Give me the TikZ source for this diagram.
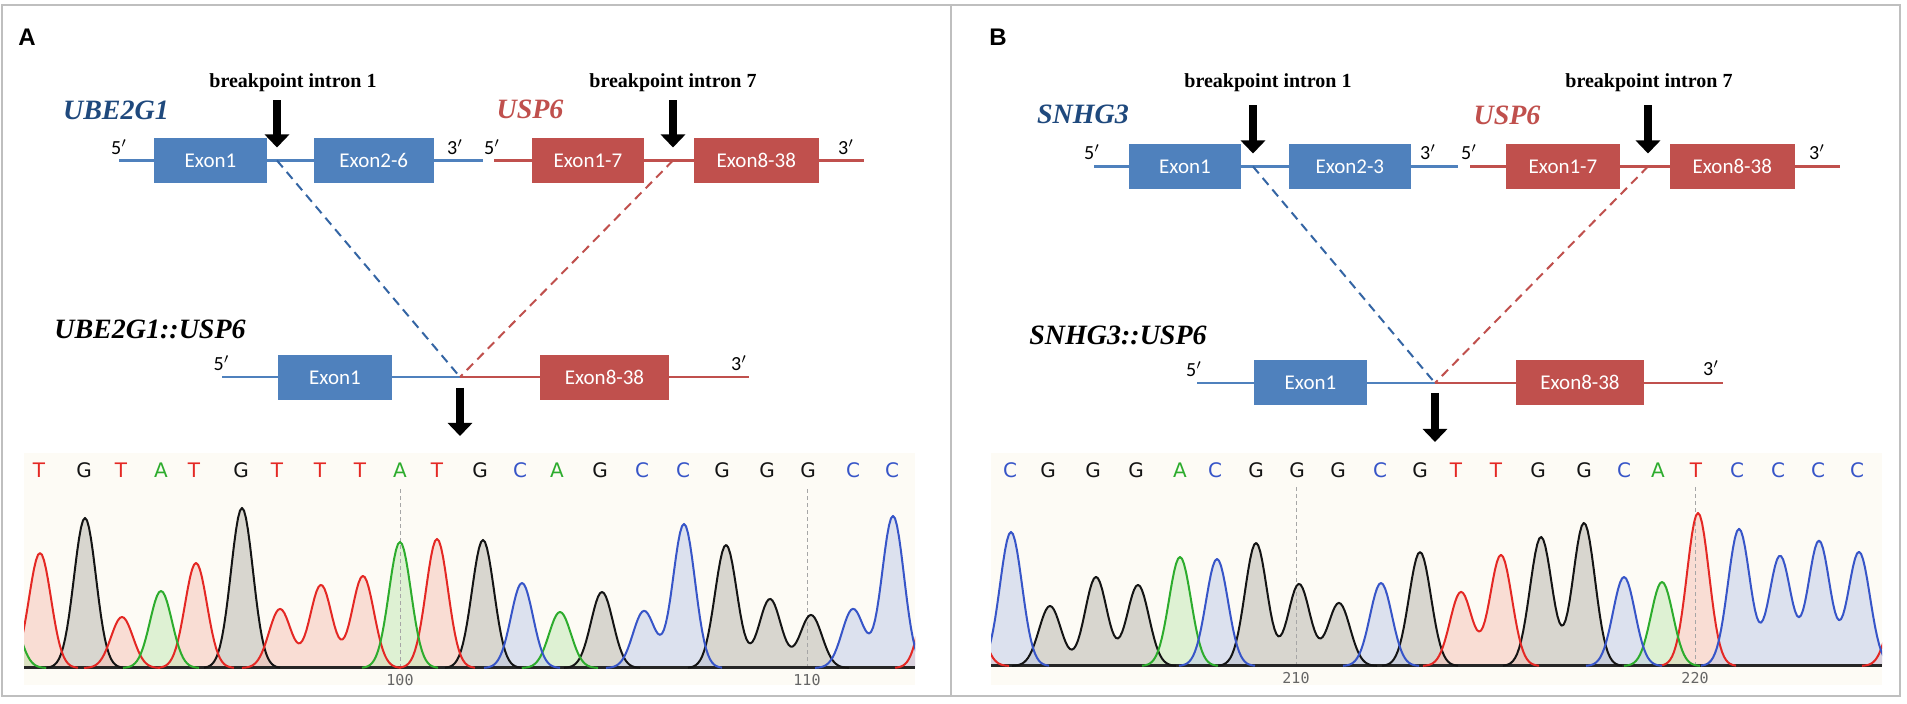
\documentclass[tikz,border=0pt]{standalone}
\usepackage{fontspec}
\setmainfont{Liberation Serif}
\newfontfamily\calfont{Carlito}
\newfontfamily\arialfont{Liberation Sans}
\newfontfamily\seqfont{DejaVu Sans}
\newfontfamily\tickfont{DejaVu Sans Mono}
\usetikzlibrary{arrows.meta, positioning, calc}

\definecolor{exblue}{RGB}{79,129,189}
\definecolor{exred}{RGB}{192,80,77}
\definecolor{dashblue}{RGB}{52,101,164}
\definecolor{genblue}{RGB}{31,73,125}
\definecolor{framegray}{RGB}{191,191,191}
\definecolor{chrombg}{RGB}{253,251,245}
\definecolor{baseT}{RGB}{228,40,36}
\definecolor{baseG}{RGB}{20,20,20}
\definecolor{baseC}{RGB}{55,85,200}
\definecolor{baseA}{RGB}{45,172,45}
\definecolor{lightT}{RGB}{246,192,180}
\definecolor{lightG}{RGB}{180,178,170}
\definecolor{lightC}{RGB}{188,200,232}
\definecolor{lightA}{RGB}{192,232,178}

% builds the sum of peaks of one trace
\newcommand\buildpk[1]{%
  \gdef\pkexpr{0}\gdef\pklo{}%
  \foreach \pc/\ph in {#1}{%
    \ifx\pklo\empty\xdef\pklo{\pc}\fi
    \xdef\pkhi{\pc}%
    \xdef\pkexpr{\unexpanded\expandafter{\pkexpr}+gpk(\noexpand\x,\pc,\ph)}%
  }%
  \pgfmathsetmacro\pka{\pklo-3.8}%
  \pgfmathsetmacro\pkb{\pkhi+3.8}%
  \pgfmathtruncatemacro\pkn{(\pkb-\pka)*5+1}%
}
\newcommand\pkfill[2]{\buildpk{#2}%
  \fill[tint#1] plot[domain=\pka:\pkb, samples=\pkn] (\x,{\pkexpr}) -- (\pkb,0) -- (\pka,0) -- cycle;}
\newcommand\pkline[2]{\buildpk{#2}%
  \draw[trace#1] plot[domain=\pka:\pkb, samples=\pkn] (\x,{\pkexpr});}

% peaks: centre (10px units) / height (px)
\newcommand\tracesA[1]{%
  #1{G}{6.1/150}#1{G}{21.8/160}#1{G}{45.9/128}#1{G}{57.8/76}#1{G}{70.2/123,74.6/69,78.7/53}%
  #1{T}{1.6/115}#1{T}{9.8/51}#1{T}{17.2/105}#1{T}{25.6/59,29.7/83,33.9/92}#1{T}{41.3/129}#1{T}{90.9/100}%
  #1{A}{-1.6/60}#1{A}{13.7/77}#1{A}{37.6/126}#1{A}{53.6/56}%
  #1{C}{49.8/85}#1{C}{62.0/57,66.0/144}#1{C}{82.9/59,86.9/152}}
\newcommand\tracesB[1]{%
  #1{G}{5.9/60,10.5/89,14.7/81}#1{G}{26.5/123,30.8/82,34.8/63}#1{G}{42.9/114}#1{G}{55.0/129,59.3/143}%
  #1{T}{-2.0/60}#1{T}{47.0/74,51.0/111}#1{T}{70.7/153}#1{T}{90.9/75}%
  #1{A}{18.9/109}#1{A}{67.1/84}%
  #1{C}{2.0/134}#1{C}{22.6/107}#1{C}{39.0/83}#1{C}{63.3/89}#1{C}{74.8/137,78.9/110,82.8/125,86.8/114}}

\begin{document}
\begin{tikzpicture}[x=0.5pt, y=-0.5pt, >=Latex,
    declare function={gpk(\gx,\gc,\gh)=\gh*exp(max(-9,-(\gx-\gc)*(\gx-\gc)/2.42));},
    exonblue/.style={rectangle, fill=exblue, text=white, font=\calfont\fontsize{10.5}{12}\selectfont, minimum height=22.5pt, inner sep=0pt},
    exonred/.style={exonblue, fill=exred},
    bbblue/.style={draw=exblue, line width=1.25pt},
    bbred/.style={draw=exred, line width=1.25pt},
    joinblue/.style={draw=dashblue, line width=1pt, dash pattern=on 4.5pt off 3pt},
    joinred/.style={draw=exred, line width=1pt, dash pattern=on 4.5pt off 3pt},
    endlbl/.style={font=\calfont\fontsize{10}{12}\selectfont, inner sep=0pt},
    genename/.style={font=\bfseries\itshape\fontsize{14}{16}\selectfont, inner sep=0pt},
    bplabel/.style={font=\bfseries\fontsize{10}{12}\selectfont, inner sep=0pt},
    panellbl/.style={font=\arialfont\bfseries\fontsize{12}{14}\selectfont, inner sep=0pt},
    bparrow/.style={-{Triangle[width=12pt, length=6.5pt]}, line width=4pt, black},
    tintT/.style={fill=lightT, fill opacity=0.5},
    tintG/.style={fill=lightG, fill opacity=0.5},
    tintC/.style={fill=lightC, fill opacity=0.5},
    tintA/.style={fill=lightA, fill opacity=0.5},
    traceT/.style={draw=baseT, line width=1pt, line join=round},
    traceG/.style={draw=baseG, line width=1pt, line join=round},
    traceC/.style={draw=baseC, line width=1pt, line join=round},
    traceA/.style={draw=baseA, line width=1pt, line join=round},
    seqT/.style={text=baseT, font=\seqfont\fontsize{10}{12}\selectfont, inner sep=0pt},
    seqG/.style={seqT, text=baseG},
    seqC/.style={seqT, text=baseC},
    seqA/.style={seqT, text=baseA},
    gridln/.style={draw=black!35, line width=0.5pt, dash pattern=on 2pt off 1.5pt},
    zeroline/.style={draw=black!85, line width=1.5pt},
    ticklbl/.style={font=\tickfont\fontsize{7.5}{9}\selectfont, text=black!60, inner sep=0pt}]

    \useasboundingbox (0,0) rectangle (1907,704);
    \fill[white] (0,0) rectangle (1907,704);

    % frames
    \draw[framegray, line width=1.3pt] (2,5) rectangle (1900,696);
    \draw[framegray, line width=1.3pt] (951,5) -- (951,696);

    %% ---------------- panel A ----------------
    \node[panellbl] (pA) at (27,37) {A};
    \node[bplabel] (bpA1) at (293,83) {breakpoint intron 1};
    \node[bplabel] (bpA7) at (673,83) {breakpoint intron 7};
    \node[genename, text=genblue] (gA1) at (116,110) {UBE2G1};
    \node[genename, text=exred] (gA2) at (530,109) {USP6};

    % wild-type genes
    \coordinate (a5) at (119,160.5);
    \coordinate (a3) at (483,160.5);
    \coordinate (u5) at (494,160.5);
    \coordinate (u3) at (864,160.5);
    \coordinate (bkA1) at (277,160.5);
    \coordinate (bkA7) at (673,160.5);
    \draw[bbblue] (a5) -- (a3);
    \draw[bbred] (u5) -- (u3);
    \node[exonblue, minimum width=56.5pt] (aex1) at (210.5,160.5) {Exon1};
    \node[exonblue, minimum width=60pt, right=23pt of aex1] (aex2) {Exon2-6};
    \node[exonred, minimum width=56pt] (uex1) at (588,160.5) {Exon1-7};
    \node[exonred, minimum width=62.5pt, right=24.5pt of uex1] (uex8) {Exon8-38};
    \node[endlbl] (a5l) at (119,147) {5$'$};
    \node[endlbl] (a3l) at (455,147) {3$'$};
    \node[endlbl] (u5l) at (492,147) {5$'$};
    \node[endlbl] (u3l) at (846,147) {3$'$};

    % fusion
    \node[genename] (fA) at (150,329) {UBE2G1::USP6};
    \coordinate (fa5) at (222,377);
    \coordinate (jA) at (460,377);
    \coordinate (fa3) at (749,377);
    \draw[bbblue] (fa5) -- (jA);
    \draw[bbred] (jA) -- (fa3);
    \node[exonblue, minimum width=57pt] (faex1) at (335,377.5) {Exon1};
    \node[exonred, minimum width=64.5pt] (faex8) at (604.5,377.5) {Exon8-38};
    \node[endlbl] (fa5l) at (221.5,363) {5$'$};
    \node[endlbl] (fa3l) at (739,363) {3$'$};

    \draw[joinblue] (bkA1) -- (jA);
    \draw[joinred] (bkA7) -- (jA);
    \draw[bparrow, shorten <=4pt] (bkA1 |- bpA1.south) -- ([yshift=6.5pt]bkA1);
    \draw[bparrow, shorten <=4pt] (bkA7 |- bpA7.south) -- ([yshift=6.5pt]bkA7);
    \draw[bparrow, shorten <=5.5pt] (jA) -- ([yshift=-29.5pt]jA);

    % chromatogram A
    \begin{scope}[shift={(24,668)}, x=5pt, y=0.5pt]
        \fill[chrombg] (0,-17) rectangle (89.1,215);
        \begin{scope}
            \clip (0,-17) rectangle (89.1,215);
            \tracesA\pkfill
            \draw[gridln] (37.6,0) -- (37.6,181);
            \draw[gridln] (78.3,0) -- (78.3,181);
            \draw[zeroline] (0,0) -- (89.1,0);
            \tracesA\pkline
        \end{scope}
        \foreach \b/\p [count=\i] in {T/1.5, G/6.0, T/9.7, A/13.7, T/17.0, G/21.7, T/25.3, T/29.6, T/33.6, A/37.6, T/41.3,
                G/45.6, C/49.6, A/53.3, G/57.6, C/61.8, C/65.9, G/69.8, G/74.3, G/78.4, C/82.9, C/86.8}
            \node[seq\b] (sqA\i) at (\p,198) {\b};
        \node[ticklbl] (tkA1) at (37.6,-12) {100};
        \node[ticklbl] (tkA2) at (78.3,-12) {110};
    \end{scope}

    %% ---------------- panel B ----------------
    \node[panellbl] (pB) at (998,37) {B};
    \node[bplabel] (bpB1) at (1268,83) {breakpoint intron 1};
    \node[bplabel] (bpB7) at (1649,83) {breakpoint intron 7};
    \node[genename, text=genblue] (gB1) at (1083,114) {SNHG3};
    \node[genename, text=exred] (gB2) at (1507,115) {USP6};

    % wild-type genes
    \coordinate (s5) at (1094,166.5);
    \coordinate (s3) at (1458,166.5);
    \coordinate (v5) at (1470,166.5);
    \coordinate (v3) at (1840,166.5);
    \coordinate (bkB1) at (1253,166.5);
    \coordinate (bkB7) at (1648,166.5);
    \draw[bbblue] (s5) -- (s3);
    \draw[bbred] (v5) -- (v3);
    \node[exonblue, minimum width=56pt] (sex1) at (1185,166.5) {Exon1};
    \node[exonblue, minimum width=61pt, right=23.5pt of sex1] (sex2) {Exon2-3};
    \node[exonred, minimum width=57pt] (vex1) at (1563,166.5) {Exon1-7};
    \node[exonred, minimum width=62.5pt, right=24.5pt of vex1] (vex8) {Exon8-38};
    \node[endlbl] (s5l) at (1092,152.5) {5$'$};
    \node[endlbl] (s3l) at (1428,152.5) {3$'$};
    \node[endlbl] (v5l) at (1469,152.5) {5$'$};
    \node[endlbl] (v3l) at (1817,152.5) {3$'$};

    % fusion
    \node[genename] (fB) at (1118,335) {SNHG3::USP6};
    \coordinate (fb5) at (1197,383);
    \coordinate (jB) at (1435,383);
    \coordinate (fb3) at (1723,383);
    \draw[bbblue] (fb5) -- (jB);
    \draw[bbred] (jB) -- (fb3);
    \node[exonblue, minimum width=56.5pt] (fbex1) at (1310.5,382.5) {Exon1};
    \node[exonred, minimum width=64pt] (fbex8) at (1580,382.5) {Exon8-38};
    \node[endlbl] (fb5l) at (1194,369) {5$'$};
    \node[endlbl] (fb3l) at (1711,368) {3$'$};

    \draw[joinblue] (bkB1) -- (jB);
    \draw[joinred] (bkB7) -- (jB);
    \draw[bparrow, shorten <=6.5pt] (bkB1 |- bpB1.south) -- ([yshift=6.5pt]bkB1);
    \draw[bparrow, shorten <=6.5pt] (bkB7 |- bpB7.south) -- ([yshift=6.5pt]bkB7);
    \draw[bparrow, shorten <=5pt] (jB) -- ([yshift=-29.5pt]jB);

    % chromatogram B
    \begin{scope}[shift={(991,666)}, x=5pt, y=0.5pt]
        \fill[chrombg] (0,-19) rectangle (89.1,213);
        \begin{scope}
            \clip (0,-19) rectangle (89.1,213);
            \tracesB\pkfill
            \draw[gridln] (30.5,0) -- (30.5,181);
            \draw[gridln] (70.4,0) -- (70.4,181);
            \draw[zeroline] (0,0) -- (89.1,0);
            \tracesB\pkline
        \end{scope}
        \foreach \b/\p [count=\i] in {C/1.9, G/5.7, G/10.2, G/14.5, A/18.9, C/22.4, G/26.5, G/30.6, G/34.7, C/38.9, G/42.9,
                T/46.5, T/50.5, G/54.7, G/59.3, C/63.3, A/66.7, T/70.5, C/74.6, C/78.7, C/82.7, C/86.6}
            \node[seq\b] (sqB\i) at (\p,196) {\b};
        \node[ticklbl] (tkB1) at (30.5,-12) {210};
        \node[ticklbl] (tkB2) at (70.4,-12) {220};
    \end{scope}

\end{tikzpicture}
\end{document}
